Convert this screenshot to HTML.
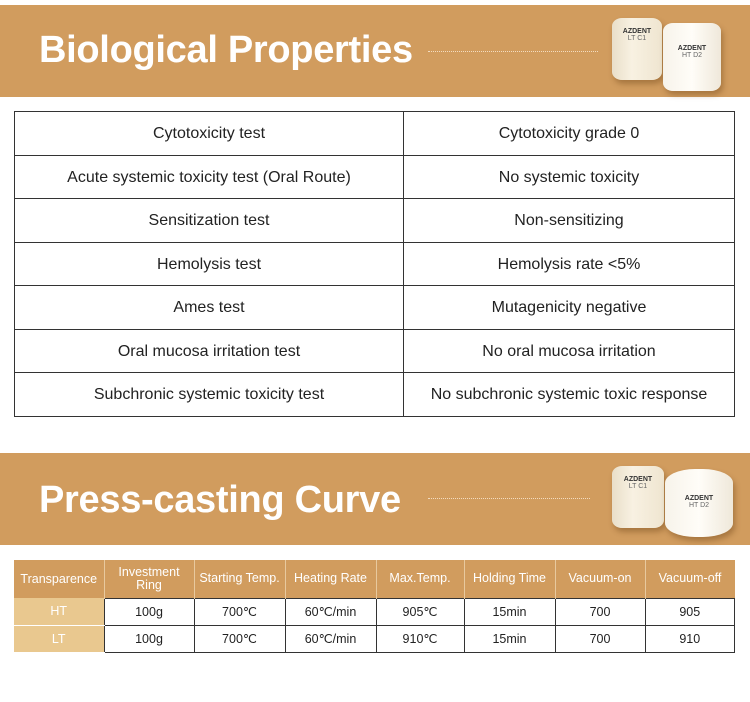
<!DOCTYPE html>
<html><head><meta charset="utf-8"><style>
*{margin:0;padding:0;box-sizing:border-box}
body{width:750px;height:702px;background:#fff;position:relative;overflow:hidden;font-family:"Liberation Sans",sans-serif;color:#222}
.banner{position:absolute;left:0;width:750px;height:92px;background:#d19c5e}
.banner h1{position:absolute;left:39px;top:24px;font-size:38px;font-weight:bold;color:#fff;letter-spacing:-0.3px}
.dots{position:absolute;height:0;border-top:1.5px dotted #f3dcc0}
.cyl{position:absolute;border-radius:10px/8px;background:linear-gradient(90deg,#e9dfc9,#f8f1e2 40%,#efe5d0);box-shadow:2px 4px 6px rgba(90,50,10,.35);font-size:7px;color:#666;text-align:center}
.cyl b{display:block;font-size:7px;color:#333;margin-top:10px}
table{position:absolute;border-collapse:collapse}
#t1{left:14px;top:111px;width:721px}
#t1 td{border:1px solid #333;height:43.5px;text-align:center;font-size:16px;color:#222;padding-top:2px}
#t2{left:14px;top:560px;width:721px}
#t2 th{background:#d19c5e;color:#fff;font-weight:normal;font-size:12.5px;height:38px;border-right:1px solid #e8c99e;line-height:13px}
#t2 td{height:27px;text-align:center;font-size:12.5px;border:1px solid #333}
#t2 td.h{background:#e9c88f;color:#fff;border:none;border-bottom:1px solid #fff}
</style></head><body>
<div class="banner" style="top:5px">
<h1>Biological Properties</h1>
<div class="dots" style="left:428px;top:46px;width:170px"></div>
<div class="cyl" style="left:612px;top:13px;width:50px;height:62px"><b>AZDENT</b>LT C1</div>
<div class="cyl" style="left:663px;top:18px;width:58px;height:68px;background:linear-gradient(90deg,#f7f3ea,#fffdf8 50%,#efe8da)"><b style="margin-top:22px">AZDENT</b>HT D2</div>
</div>
<table id="t1">
<tr><td style="width:389px">Cytotoxicity test</td><td>Cytotoxicity grade 0</td></tr>
<tr><td>Acute systemic toxicity test (Oral Route)</td><td>No systemic toxicity</td></tr>
<tr><td>Sensitization test</td><td>Non-sensitizing</td></tr>
<tr><td>Hemolysis test</td><td>Hemolysis rate &lt;5%</td></tr>
<tr><td>Ames test</td><td>Mutagenicity negative</td></tr>
<tr><td>Oral mucosa irritation test</td><td>No oral mucosa irritation</td></tr>
<tr><td>Subchronic systemic toxicity test</td><td>No subchronic systemic toxic response</td></tr>
</table>
<div class="banner" style="top:453px">
<h1 style="top:26px">Press-casting Curve</h1>
<div class="dots" style="left:428px;top:45px;width:162px"></div>
<div class="cyl" style="left:612px;top:13px;width:52px;height:62px"><b>AZDENT</b>LT C1</div>
<div class="cyl" style="left:665px;top:16px;width:68px;height:68px;border-radius:30px/14px;background:linear-gradient(90deg,#f7f3ea,#fffdf8 50%,#efe8da)"><b style="margin-top:26px">AZDENT</b>HT D2</div>
</div>
<table id="t2">
<tr><th style="width:90px">Transparence</th><th style="width:90px">Investment<br>Ring</th><th style="width:91px">Starting Temp.</th><th style="width:91px">Heating Rate</th><th style="width:88px">Max.Temp.</th><th style="width:91px">Holding Time</th><th style="width:90px">Vacuum-on</th><th style="border-right:none">Vacuum-off</th></tr>
<tr><td class="h">HT</td><td>100g</td><td>700℃</td><td>60℃/min</td><td>905℃</td><td>15min</td><td>700</td><td>905</td></tr>
<tr><td class="h">LT</td><td>100g</td><td>700℃</td><td>60℃/min</td><td>910℃</td><td>15min</td><td>700</td><td>910</td></tr>
</table>
</body></html>
